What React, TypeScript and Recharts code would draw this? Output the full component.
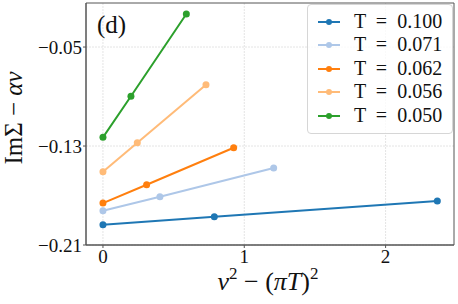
import React from "react";
import {
  LineChart,
  Line,
  XAxis,
  YAxis,
  CartesianGrid,
  Legend,
  ReferenceArea,
} from "recharts";

const FONT = "'Liberation Serif', 'DejaVu Serif', serif";

// x = nu^2 - (pi T)^2, y = Im Sigma - alpha nu
const labels = ["T = 0.100", "T = 0.071", "T = 0.062", "T = 0.056", "T = 0.050"];
const colors = ["#1f77b4", "#aec7e8", "#ff7f0e", "#ffbb78", "#2ca02c"];

const xT100 = [0, 0.788, 2.366];
const yT100 = [-0.1936, -0.1871, -0.1744];
const xT071 = [0, 0.403, 1.208];
const yT071 = [-0.1823, -0.171, -0.1478];
const xT062 = [0, 0.309, 0.925];
const yT062 = [-0.1761, -0.1613, -0.1314];
const xT056 = [0, 0.243, 0.729];
const yT056 = [-0.1508, -0.1273, -0.0805];
const xT050 = [0, 0.198, 0.59];
const yT050 = [-0.123, -0.0898, -0.0233];

const xTicks = [0, 1, 2];
const yTicks = [-0.21, -0.13, -0.05];
const xDomain = [-0.12, 2.484];
const yDomain = [-0.21, -0.0144];

const zip = (xs: number[], ys: number[]) => xs.map((x, i) => ({ x, y: ys[i] }));
const series = [
  zip(xT100, yT100),
  zip(xT071, yT071),
  zip(xT062, yT062),
  zip(xT056, yT056),
  zip(xT050, yT050),
];

const fmtY = (v: number) => (v < 0 ? "\u2212" : "") + Math.abs(v).toFixed(2);

function LegendBox({ payload }: any) {
  const items = [...(payload || [])].sort(
    (a: any, b: any) => labels.indexOf(a.value) - labels.indexOf(b.value)
  );
  return (
    <div
      style={{
        width: 146,
        height: 130,
        boxSizing: "border-box",
        border: "1px solid #d6d6d6",
        borderRadius: 4,
        background: "rgba(255,255,255,0.8)",
        paddingTop: 5,
        fontFamily: FONT,
      }}
    >
      {items.map((p: any) => (
        <div key={p.value} style={{ height: 23.4, position: "relative" }}>
          <svg width={24} height={10} style={{ position: "absolute", left: 9, top: 7 }}>
            <line x1={1} y1={5} x2={23} y2={5} stroke={p.color} strokeWidth={2} />
            <circle cx={12} cy={5} r={3} fill={p.color} />
          </svg>
          <span
            style={{
              position: "absolute",
              left: 46,
              top: 0,
              fontSize: 20,
              lineHeight: "23px",
              color: "#111",
              wordSpacing: 5,
              whiteSpace: "nowrap",
            }}
          >
            {p.value}
          </span>
        </div>
      ))}
    </div>
  );
}

export default function App() {
  return (
    <div style={{ position: "absolute", left: 0, top: 0 }}>
      <LineChart
        width={458}
        height={304}
        margin={{ top: 3, right: 4, bottom: 0, left: 0 }}
        style={{ fontFamily: FONT }}
      >
        <CartesianGrid
          stroke="#e4e4e4"
          strokeDasharray="2 1"
          horizontalValues={yTicks}
          verticalValues={xTicks}
        />
        <XAxis
          type="number"
          dataKey="x"
          domain={xDomain}
          ticks={xTicks}
          allowDataOverflow
          height={59}
          tickSize={3}
          tickMargin={2}
          axisLine={{ stroke: "#555" }}
          tickLine={{ stroke: "#555" }}
          tick={{ fontSize: 19, fill: "#111" }}
          label={() => (
            <text
              x={268}
              y={290}
              textAnchor="middle"
              fontSize={26}
              fill="#111"
              fontFamily={FONT}
            >
              <tspan fontStyle="italic">ν</tspan>
              <tspan fontSize={17} dy={-11}>2</tspan>
              <tspan dy={11}> − (</tspan>
              <tspan fontStyle="italic">πT</tspan>
              <tspan>)</tspan>
              <tspan fontSize={17} dy={-11}>2</tspan>
            </text>
          )}
        />
        <YAxis
          type="number"
          dataKey="y"
          domain={yDomain}
          ticks={yTicks}
          allowDataOverflow
          width={86}
          tickSize={3}
          tickMargin={1}
          tickFormatter={fmtY}
          axisLine={{ stroke: "#555" }}
          tickLine={{ stroke: "#555" }}
          tick={{ fontSize: 19, fill: "#111" }}
          label={() => (
            <text
              x={22}
              y={118}
              transform="rotate(-90, 22, 118)"
              textAnchor="middle"
              fontSize={25}
              fill="#111"
              fontFamily={FONT}
            >
              <tspan>ImΣ − </tspan>
              <tspan fontStyle="italic">αν</tspan>
            </text>
          )}
        />
        <ReferenceArea
          x1={xDomain[0]}
          x2={xDomain[1]}
          y1={yDomain[0]}
          y2={yDomain[1]}
          fill="none"
          stroke="#555"
          strokeWidth={1}
          ifOverflow="visible"
        />
        {series.map((d, i) => (
          <Line
            key={labels[i]}
            data={d}
            dataKey="y"
            name={labels[i]}
            type="linear"
            stroke={colors[i]}
            strokeWidth={2}
            dot={{ r: 3.5, fill: colors[i], stroke: "none" }}
            activeDot={false}
            isAnimationActive={false}
          />
        ))}
        <Legend
          layout="vertical"
          align="center"
          verticalAlign="middle"
          content={<LegendBox />}
          wrapperStyle={{ left: 307, top: 4, width: 146, height: 130 }}
        />
        <text x={97} y={33} fontSize={25} fill="#111" fontFamily={FONT}>
          (d)
        </text>
      </LineChart>
    </div>
  );
}
